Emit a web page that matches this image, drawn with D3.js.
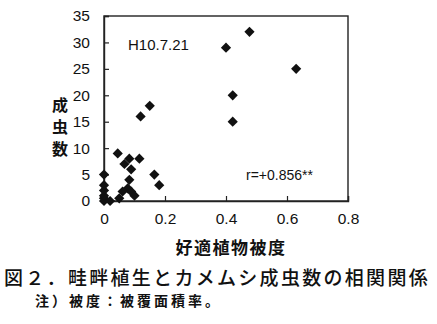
<!DOCTYPE html>
<html>
<head>
<meta charset="utf-8">
<script src="https://cdn.jsdelivr.net/npm/d3@7"></script>
<style>
  body { margin: 0; background: #fff; }
  svg { display: block; }
</style>
</head>
<body>
<div id="chart"></div>
<script>
// data
const cover = [0, 0, 0, 0, 0, 0, 0.02, 0.045, 0.067, 0.083, 0.089, 0.116, 0.083, 0.078, 0.061, 0.089, 0.10, 0.05,
               0.12, 0.15, 0.165, 0.181, 0.40, 0.477, 0.63, 0.422, 0.422];
const adults = [0, 0.5, 1, 2, 3, 5, 0, 9, 7, 8, 6, 8, 4, 2.4, 1.8, 1.8, 1, 0.5,
                16, 18, 5, 3, 29, 32, 25, 20, 15];
const xTicks = [0, 0.2, 0.4, 0.6, 0.8];
const yTicks = [0, 5, 10, 15, 20, 25, 30, 35];

const W = 437, H = 324;
const margin = {top: 16, right: 89, bottom: 123, left: 104},
    width = W - margin.left - margin.right,
    height = H - margin.top - margin.bottom;

const svg = d3.select("#chart")
  .append("svg")
    .attr("width", W)
    .attr("height", H)
    .style("font-family", "'Liberation Sans', Arial, sans-serif");

const g = svg.append("g")
    .attr("transform", `translate(${margin.left},${margin.top})`);

const x = d3.scaleLinear().domain([0, 0.8]).range([0, width]);
const y = d3.scaleLinear().domain([0, 35]).range([height, 0]);

// frame
g.append("rect")
  .attr("width", width)
  .attr("height", height)
  .attr("fill", "none")
  .attr("stroke", "#222")
  .attr("stroke-width", 1.4);

// axes, ticks pointing inward
const xAxis = g.append("g")
  .attr("transform", `translate(0,${height})`)
  .call(d3.axisBottom(x).tickValues(xTicks).tickSize(-5).tickPadding(12)
        .tickFormat(d => d === 0 ? "0" : d3.format(".1f")(d)));
const yAxis = g.append("g")
  .call(d3.axisLeft(y).tickValues(yTicks).tickSize(-5).tickPadding(14));

[xAxis, yAxis].forEach(a => {
  a.select(".domain").attr("stroke", "#222").attr("stroke-width", 1.4);
  a.selectAll(".tick line").attr("stroke", "#222").attr("stroke-width", 1.2);
  a.selectAll("text")
    .attr("fill", "#111")
    .style("font-size", "15.5px")
    .style("font-family", "'Liberation Sans', Arial, sans-serif");
});

// points
const pts = cover.map((c, i) => ({c: c, n: adults[i]}));
g.selectAll(".pt")
  .data(pts)
  .enter()
  .append("path")
    .attr("class", "pt")
    .attr("d", d3.symbol(d3.symbolSquare, 52))
    .attr("transform", d => `translate(${x(d.c)},${y(d.n)}) rotate(45)`)
    .attr("fill", "#111");

// annotations
g.append("text")
  .attr("x", 24)
  .attr("y", 34)
  .attr("font-size", 15)
  .attr("fill", "#111")
  .text("H10.7.21");

g.append("text")
  .attr("x", 142)
  .attr("y", 164)
  .attr("font-size", 14)
  .attr("fill", "#111")
  .text("r=+0.856**");

// y label, stacked vertically
const cjk = "'Noto Sans CJK JP', 'Noto Sans CJK SC', sans-serif";
["成", "虫", "数"].forEach((ch, i) => {
  svg.append("text")
    .attr("x", 60)
    .attr("y", 111 + i * 22)
    .attr("text-anchor", "middle")
    .attr("font-size", 16)
    .attr("font-weight", "bold")
    .style("font-family", cjk)
    .attr("fill", "#111")
    .text(ch);
});

// x label
svg.append("text")
  .attr("x", 231)
  .attr("y", 254)
  .attr("text-anchor", "middle")
  .attr("font-size", 17)
  .attr("font-weight", "bold")
  .attr("letter-spacing", 1.5)
  .style("font-family", cjk)
  .attr("fill", "#111")
  .text("好適植物被度");

// caption
svg.append("text")
  .attr("x", 4)
  .attr("y", 285)
  .attr("font-size", 19)
  .attr("font-weight", 500)
  .attr("letter-spacing", 2.3)
  .style("font-family", cjk)
  .attr("fill", "#111")
  .text("図２．畦畔植生とカメムシ成虫数の相関関係");

svg.append("text")
  .attr("x", 35)
  .attr("y", 306)
  .attr("font-size", 14)
  .attr("font-weight", "bold")
  .attr("letter-spacing", 3)
  .style("font-family", cjk)
  .attr("fill", "#111")
  .text("注）被度：被覆面積率。");
</script>
</body>
</html>
